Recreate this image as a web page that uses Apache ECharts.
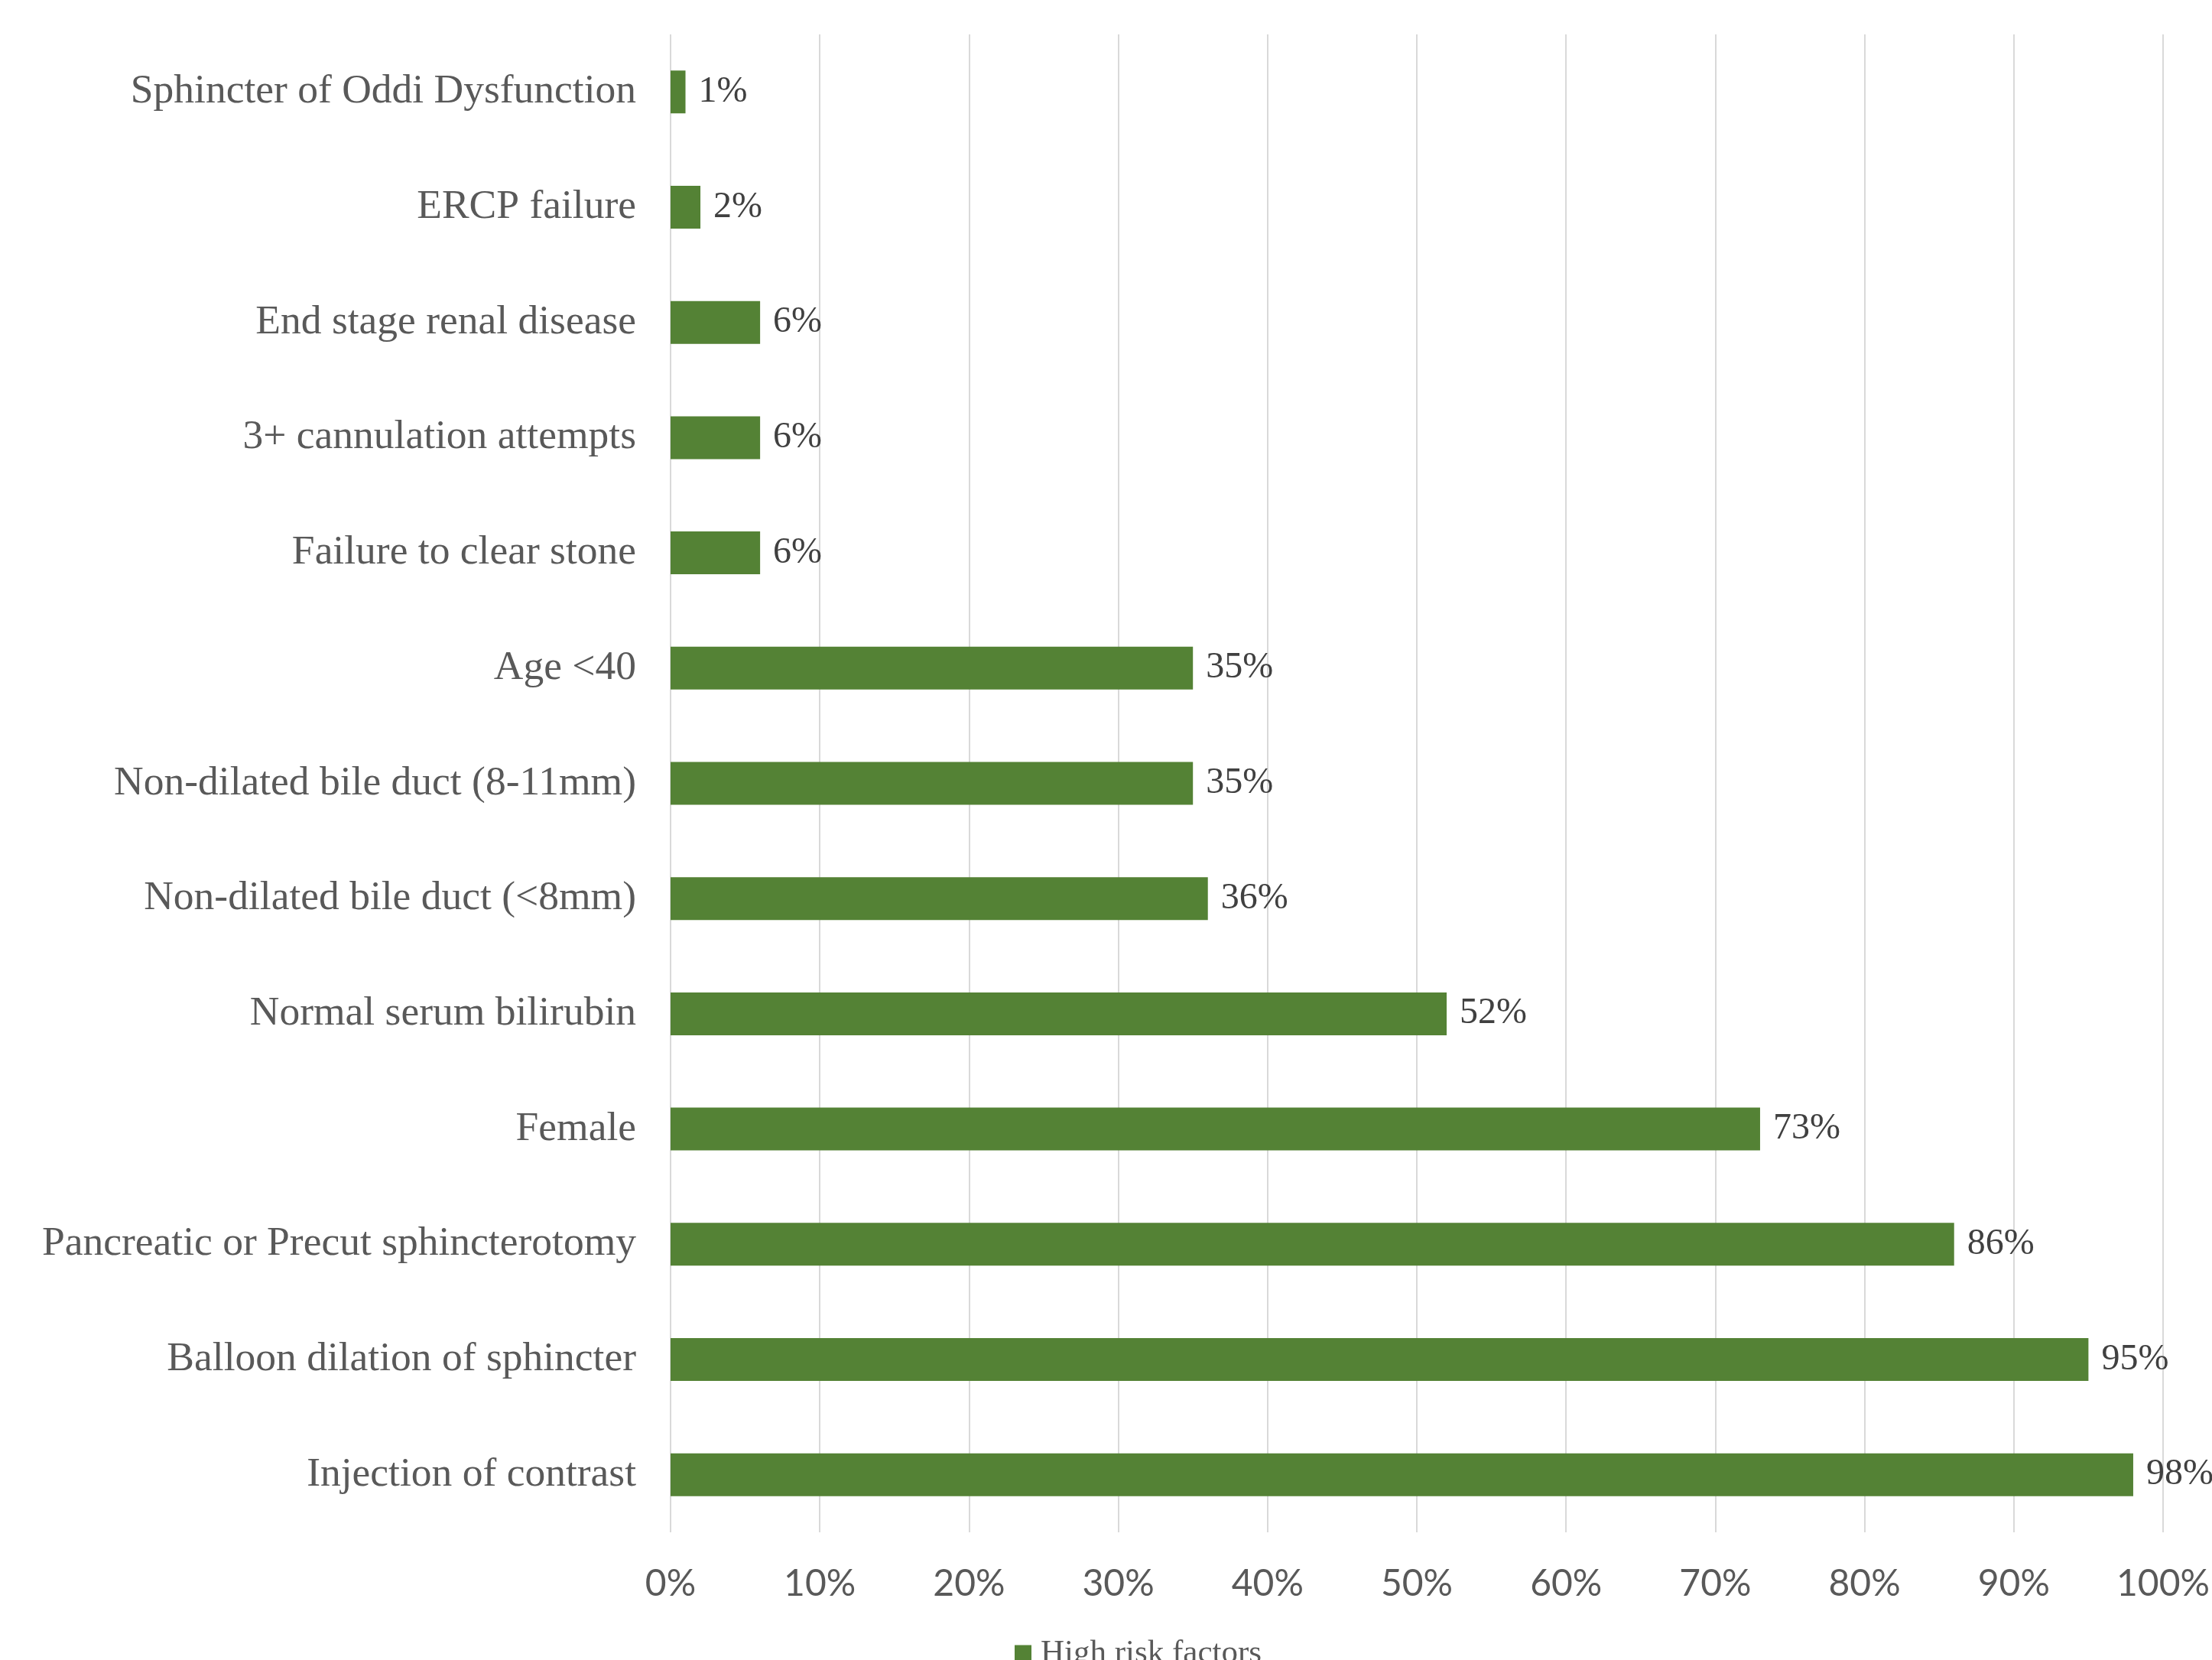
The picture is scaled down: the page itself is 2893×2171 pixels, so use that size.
<!DOCTYPE html>
<html>
<head>
<meta charset="utf-8">
<title>High risk factors</title>
<script src="https://cdn.jsdelivr.net/npm/echarts@6/dist/echarts.min.js"></script>
<style>
    html, body { margin: 0; padding: 0; background: #fff; }
    #chart { width: 2893px; height: 2171px; }
</style>
</head>
<body>
<div id="chart"></div>
<script>
'use strict';

// categories listed bottom to top (the y category axis starts at the bottom)
var categories = [
    'Injection of contrast',
    'Balloon dilation of sphincter',
    'Pancreatic or Precut sphincterotomy',
    'Female',
    'Normal serum bilirubin',
    'Non-dilated bile duct (<8mm)',
    'Non-dilated bile duct (8-11mm)',
    'Age <40',
    'Failure to clear stone',
    '3+ cannulation attempts',
    'End stage renal disease',
    'ERCP failure',
    'Sphincter of Oddi Dysfunction'
];
var riskValues = [98, 95, 86, 73, 52, 36, 35, 35, 6, 6, 6, 2, 1];
var seriesName = 'High risk factors';
var tickStep = 10;

var serif = '"Liberation Serif", "Times New Roman", serif';
var sans = 'Lato, "Open Sans", sans-serif';

var chart = echarts.init(document.getElementById('chart'));

chart.setOption({
    backgroundColor: '#fff',
    animation: false,
    grid: {
        left: 877,
        right: 63,
        top: 45,
        bottom: 167,
        containLabel: false
    },
    legend: {
        data: [seriesName],
        left: 1322,
        top: 2136,
        icon: 'rect',
        itemWidth: 22,
        itemHeight: 22,
        textStyle: {
            fontFamily: serif,
            fontSize: 43,
            color: '#595959',
            padding: [0, 0, 0, 7]
        }
    },
    xAxis: {
        type: 'value',
        min: 0,
        max: 100,
        interval: tickStep,
        axisLine: { show: false },
        axisTick: { show: false },
        splitLine: {
            show: true,
            lineStyle: { color: '#d9d9d9', width: 2 }
        },
        axisLabel: {
            margin: 44,
            fontFamily: sans,
            fontSize: 48,
            color: '#595959',
            formatter: '{value}%'
        }
    },
    yAxis: {
        type: 'category',
        data: categories,
        axisLine: { show: false },
        axisTick: { show: false },
        axisLabel: {
            margin: 45,
            fontFamily: serif,
            fontSize: 53.5,
            color: '#595959',
            padding: [12, 0, 0, 0]
        }
    },
    series: [{
        name: seriesName,
        type: 'bar',
        data: riskValues,
        barWidth: 56,
        itemStyle: { color: '#548235' },
        label: {
            show: true,
            position: 'right',
            distance: 17,
            fontFamily: serif,
            fontSize: 48,
            color: '#404040',
            padding: [8, 0, 0, 0],
            formatter: '{c}%'
        }
    }]
});
</script>
</body>
</html>
